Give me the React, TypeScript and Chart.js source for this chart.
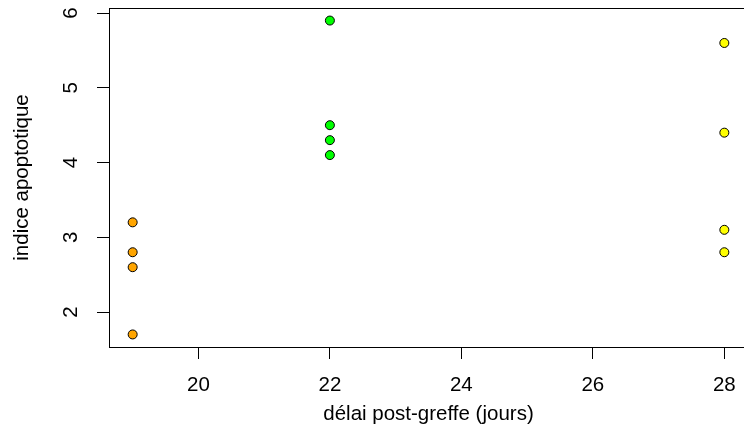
import React, { useEffect, useRef } from "react";
import { Chart, registerables } from "chart.js";

Chart.register(...registerables);

// Data
const days = [19, 22, 28];
const valuesDay19 = [3.2, 2.8, 2.6, 1.7];
const valuesDay22 = [5.9, 4.5, 4.3, 4.1];
const valuesDay28 = [5.6, 4.4, 3.1, 2.8];
const groupColors = ["#FFA500", "#00FF00", "#FFFF00"];
const xTicks = [20, 22, 24, 26, 28];
const yTicks = [2, 3, 4, 5, 6];
const xLabel = "délai post-greffe (jours)";
const yLabel = "indice apoptotique";

const FONT = "'Liberation Sans', Arial, Helvetica, sans-serif";
const SIZE = 20.5;

function rExtend(vals: number[]) {
  const mn = Math.min(...vals);
  const mx = Math.max(...vals);
  const d = (mx - mn) * 0.04;
  return [mn - d, mx + d];
}

export default function App() {
  const ref = useRef<HTMLCanvasElement | null>(null);

  useEffect(() => {
    if (!ref.current) return;
    const groups = [valuesDay19, valuesDay22, valuesDay28];
    const allY = groups.flat();
    const [xMin, xMax] = rExtend(days);
    const [yMin, yMax] = rExtend(allY);

    const boxPlugin = {
      id: "rbox",
      afterDraw(chart: any) {
        const { ctx, chartArea } = chart;
        ctx.save();
        ctx.strokeStyle = "#000";
        ctx.lineWidth = 1;
        ctx.strokeRect(
          Math.round(chartArea.left) + 0.5,
          Math.round(chartArea.top) + 0.5,
          Math.round(chartArea.right - chartArea.left),
          Math.round(chartArea.bottom - chartArea.top)
        );
        ctx.restore();
      },
    };

    const chart = new Chart(ref.current, {
      type: "scatter",
      data: {
        datasets: groups.map((vals, i) => ({
          label: String(days[i]),
          data: vals.map((v) => ({ x: days[i], y: v })),
          backgroundColor: groupColors[i],
          borderColor: "#000",
          borderWidth: 1,
          pointRadius: 4.5,
          pointHoverRadius: 4.5,
        })),
      },
      options: {
        responsive: false,
        animation: false,
        devicePixelRatio: 1,
        layout: { padding: { top: 8, right: 12, left: 0, bottom: 0 } },
        plugins: {
          legend: { display: false },
          tooltip: { enabled: false },
        },
        scales: {
          x: {
            type: "linear",
            min: xMin,
            max: xMax,
            afterBuildTicks: (scale: any) => {
              scale.ticks = xTicks.map((v) => ({ value: v }));
            },
            afterFit: (scale: any) => {
              scale.height = 101;
              scale.paddingLeft = 0;
              scale.paddingRight = 0;
            },
            border: { display: false },
            grid: {
              drawOnChartArea: false,
              drawTicks: true,
              tickLength: 12,
              color: "#000",
              lineWidth: 1,
            },
            ticks: {
              color: "#000",
              font: { family: FONT, size: SIZE },
              padding: 14,
              maxRotation: 0,
              autoSkip: false,
            },
            title: {
              display: true,
              text: xLabel,
              color: "#000",
              font: { family: FONT, size: SIZE },
              padding: { top: 0, bottom: 21.5 },
            },
          },
          y: {
            type: "linear",
            min: yMin,
            max: yMax,
            afterBuildTicks: (scale: any) => {
              scale.ticks = yTicks.map((v) => ({ value: v }));
            },
            afterCalculateLabelRotation: (scale: any) => {
              scale.labelRotation = 90;
            },
            afterFit: (scale: any) => {
              scale.width = 109;
              scale.paddingTop = 0;
              scale.paddingBottom = 0;
            },
            border: { display: false },
            grid: {
              drawOnChartArea: false,
              drawTicks: true,
              tickLength: 12,
              color: "#000",
              lineWidth: 1,
            },
            ticks: {
              color: "#000",
              font: { family: FONT, size: SIZE },
              padding: 20,
              minRotation: 90,
              maxRotation: 90,
              crossAlign: "center",
              autoSkip: false,
            },
            title: {
              display: true,
              text: yLabel,
              color: "#000",
              font: { family: FONT, size: SIZE },
              padding: { top: 9.7, bottom: 0 },
            },
          },
        },
      },
      plugins: [boxPlugin],
    });
    return () => chart.destroy();
  }, []);

  return (
    <div
      style={{
        position: "fixed",
        left: 0,
        top: 0,
        width: 744,
        height: 448,
        overflow: "hidden",
        background: "#fff",
      }}
    >
      <canvas ref={ref} width={760} height={448} style={{ display: "block" }} />
    </div>
  );
}
